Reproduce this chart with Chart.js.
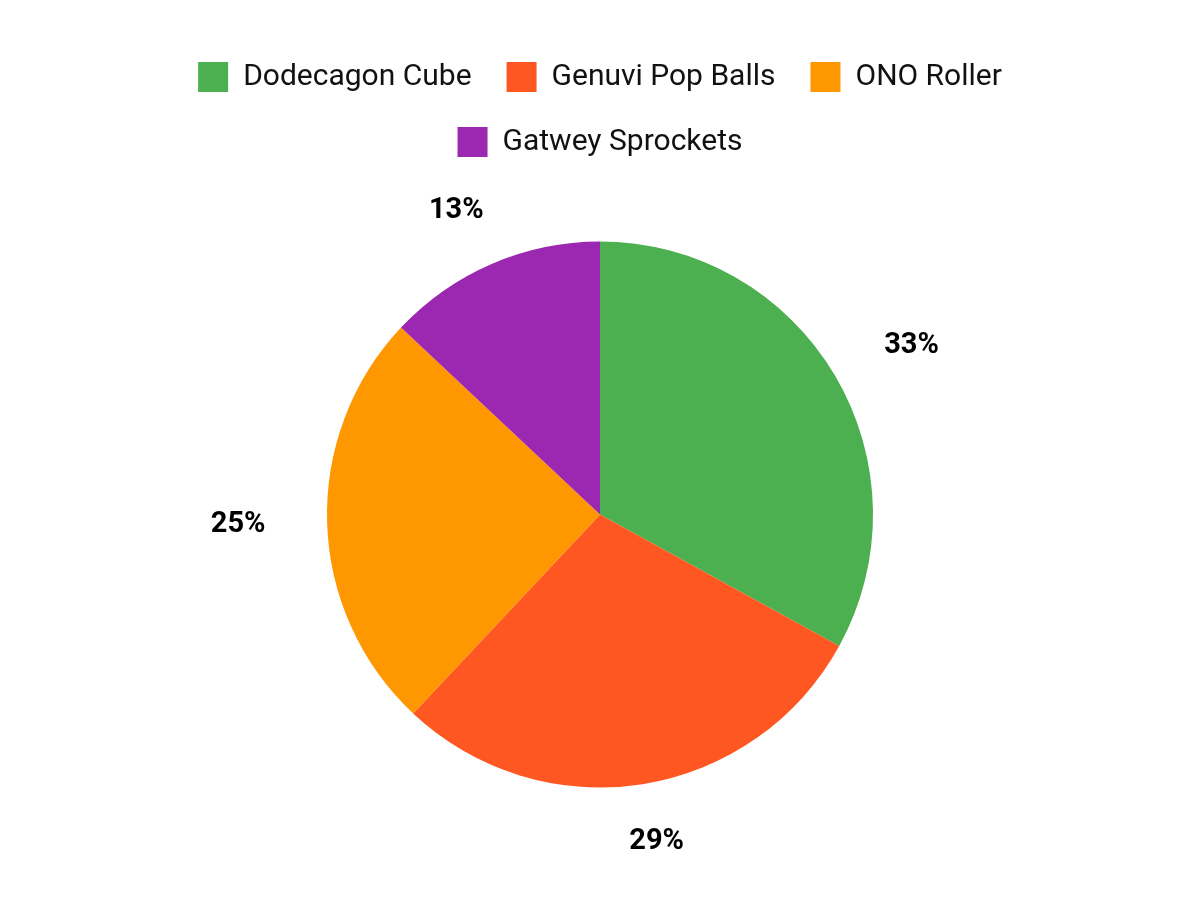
<!DOCTYPE html>
<html lang="en">
<head>
    <meta charset="UTF-8">
    <title>Product share</title>
    <script src="https://cdn.jsdelivr.net/npm/chart.js"></script>
    <style>
        html, body { margin: 0; padding: 0; background: #fff; }
        #wrap { width: 1200px; height: 900px; }
    </style>
</head>
<body>
    <div id="wrap"><canvas id="pieChart" width="1200" height="900"></canvas></div>

    <script>
        const products = ['Dodecagon Cube', 'Genuvi Pop Balls', 'ONO Roller', 'Gatwey Sprockets'];
        const shares = [33, 29, 25, 13];
        const sliceColors = ['#4CAF50', '#FF5722', '#FF9800', '#9C27B0'];

        // draws the percent labels outside each slice, on an ellipse a bit wider than the pie
        const outsideLabels = {
            id: 'outsideLabels',
            afterDatasetsDraw(chart) {
                const ctx = chart.ctx;
                const meta = chart.getDatasetMeta(0);
                const total = shares.reduce((a, b) => a + b, 0);
                ctx.save();
                ctx.font = 'bold 29px Roboto';
                ctx.fillStyle = '#000';
                ctx.textAlign = 'center';
                ctx.textBaseline = 'middle';
                meta.data.forEach(function(arc, i) {
                    const mid = (arc.startAngle + arc.endAngle) / 2;
                    const text = Math.round(shares[i] / total * 100) + '%';
                    const rx = arc.outerRadius + 89;
                    const ry = arc.outerRadius + 58;
                    ctx.fillText(text, arc.x + Math.cos(mid) * rx, arc.y + Math.sin(mid) * ry);
                });
                ctx.restore();
            }
        };

        const ctx = document.getElementById('pieChart').getContext('2d');
        const pieChart = new Chart(ctx, {
            type: 'pie',
            data: {
                labels: products,
                datasets: [{
                    data: shares,
                    backgroundColor: sliceColors,
                    borderWidth: 0,
                    radius: 273
                }]
            },
            options: {
                responsive: false,
                animation: false,
                layout: {
                    padding: { top: 27, bottom: 38, left: 150, right: 150 }
                },
                plugins: {
                    legend: {
                        position: 'top',
                        labels: {
                            font: { family: 'Roboto', size: 30 },
                            color: '#111',
                            boxWidth: 30,
                            boxHeight: 30,
                            padding: 35
                        }
                    },
                    tooltip: { enabled: false }
                }
            },
            plugins: [outsideLabels]
        });
    </script>
</body>
</html>
